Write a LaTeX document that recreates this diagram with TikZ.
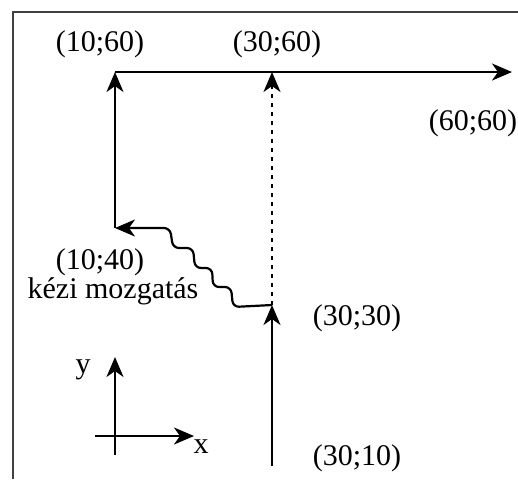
\documentclass[tikz,border=0pt]{standalone}
\usepackage{fontspec}
\setmainfont{Liberation Serif}
\usetikzlibrary{arrows.meta,positioning}

\begin{document}
\begin{tikzpicture}[
    x=0.5pt, y=-0.5pt,
    every node/.style={font=\fontsize{15}{18}\selectfont, inner sep=0pt},
    move/.style={->, line width=1.1pt},
    jump/.style={->, line width=0.9pt, dash pattern=on 2pt off 2.5pt},
    manual/.style={->, line width=1.1pt, rounded corners=3pt},
    axis/.style={->, line width=1.1pt},
    frameline/.style={line width=1.1pt, black!75},
    >={Stealth[length=10pt, width=8.5pt, inset=3pt]}
]
    \useasboundingbox (0,0) rectangle (518,479);
    \draw[frameline] (518,12) -| (13,479);

    % points of the path
    \coordinate (P1) at (272,466);
    \coordinate (P2) at (272,305);
    \coordinate (P3) at (115,228);
    \coordinate (P4) at (115,72);
    \coordinate (P5) at (272,72);
    \coordinate (P6) at (512,72);

    \node (L3010) at (357,458) {(30;10)};
    \node (L3030) at (357,318) {(30;30)};
    \node (L1040) at (100,262) {(10;40)};
    \node (Lkezi) at (113,291) {kézi mozgatás};
    \node (L1060) at (100,44) {(10;60)};
    \node (L3060) at (277,44) {(30;60)};
    \node (L6060) at (473,123) {(60;60)};

    \draw[move] (P1) -- (P2);
    \draw[jump] (P2) -- (P5);
    \draw[manual] (P2) -- ++(-39,2) -- ++(-2,-20) -- ++(-18,0) -- ++(-1,-19)
        -- ++(-17,0) -- ++(-2,-20) -- ++(-20,0) -- ++(-3,-20) -- (P3);
    \draw[move] (P3) -- (P4);
    \draw[move] (P4) -- (P6);

    % axes
    \coordinate (Y0) at (115,455);
    \coordinate (Y1) at (115,357);
    \coordinate (X0) at (95,436);
    \coordinate (X1) at (194,436);
    \draw[axis] (Y0) -- (Y1);
    \draw[axis] (X0) -- (X1);
    \node (Ly) at (83,370) {y};
    \node (Lx) at (201,447) {x};
\end{tikzpicture}
\end{document}
